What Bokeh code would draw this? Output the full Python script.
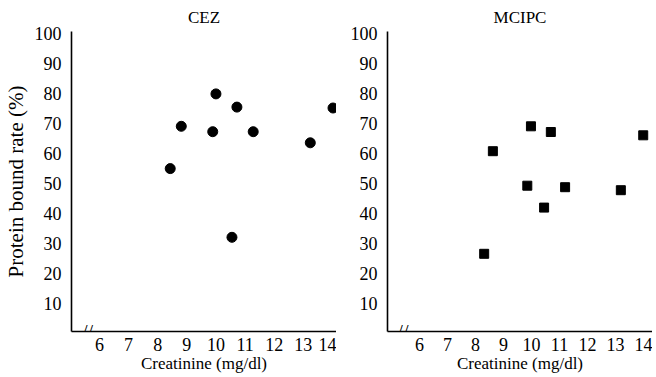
from bokeh.plotting import figure
from bokeh.layouts import row
from bokeh.models import Range1d, FixedTicker, Label
from bokeh.embed import file_html
from bokeh.resources import INLINE

# CEZ (circles)
cez_creatinine = [8.43, 8.81, 9.89, 10.0, 10.72, 10.55, 11.28, 13.24, 14.02]
cez_bound = [55.1, 69.2, 67.4, 80.0, 75.6, 32.2, 67.4, 63.7, 75.3]

# MCIPC (squares)
mcipc_creatinine = [8.31, 8.62, 9.85, 9.98, 10.45, 10.69, 11.2, 13.19, 13.99]
mcipc_bound = [26.7, 60.9, 49.4, 69.2, 42.1, 67.3, 48.9, 47.9, 66.2]

x_ticks = [6, 7, 8, 9, 10, 11, 12, 13, 14]
y_ticks = [10, 20, 30, 40, 50, 60, 70, 80, 90, 100]

FONT = "'Liberation Serif', serif"


def make_panel(title, xr, border_left, frame_w, border_right, ylabel):
    p = figure(output_backend="svg", toolbar_location=None,
               frame_width=frame_w, frame_height=300,
               x_range=Range1d(*xr), y_range=Range1d(0.8, 100.8),
               min_border_left=border_left, min_border_right=border_right,
               min_border_top=22, min_border_bottom=40,
               title=title)
    p.title.align = "center"
    p.title.text_font = FONT
    p.title.text_font_style = "normal"
    p.title.text_font_size = "17px"
    p.title.text_color = "black"
    p.outline_line_color = None
    p.grid.visible = False
    for ax in (p.xaxis[0], p.yaxis[0]):
        ax.major_tick_line_color = None
        ax.minor_tick_line_color = None
        ax.axis_line_color = "black"
        ax.axis_line_width = 1.6
        ax.major_label_text_font = FONT
        ax.major_label_text_font_size = "18px"
        ax.major_label_text_color = "black"
        ax.axis_label_text_font = FONT
        ax.axis_label_text_font_style = "normal"
        ax.axis_label_text_color = "black"
    p.xaxis.ticker = FixedTicker(ticks=x_ticks)
    p.yaxis.ticker = FixedTicker(ticks=y_ticks)
    p.xaxis.major_label_standoff = 0
    p.yaxis.major_label_standoff = 4
    p.xaxis.axis_label = "Creatinine (mg/dl)"
    p.xaxis.axis_label_text_font_size = "17px"
    p.xaxis.axis_label_standoff = 0
    if ylabel:
        p.yaxis.axis_label = ylabel
        p.yaxis.axis_label_text_font_size = "21px"
        p.yaxis.axis_label_standoff = 4
    brk = Label(x=xr[0] + 0.55, y=0.8, text="//", text_font=FONT,
                text_font_size="20px", text_align="center",
                text_baseline="middle", text_color="black")
    p.add_layout(brk)
    return p


p1 = make_panel("CEZ", (5.04, 14.14), 59, 265, 0, "Protein bound rate (%)")
p1.scatter(cez_creatinine, cez_bound, marker="circle", size=10,
           color="black")

p2 = make_panel("MCIPC", (4.857, 14.321), 51, 265, 0, None)
p2.scatter(mcipc_creatinine, mcipc_bound, marker="square", size=9,
           color="black")

layout = row(p1, p2)
open("out.html", "w").write(file_html(layout, INLINE))
